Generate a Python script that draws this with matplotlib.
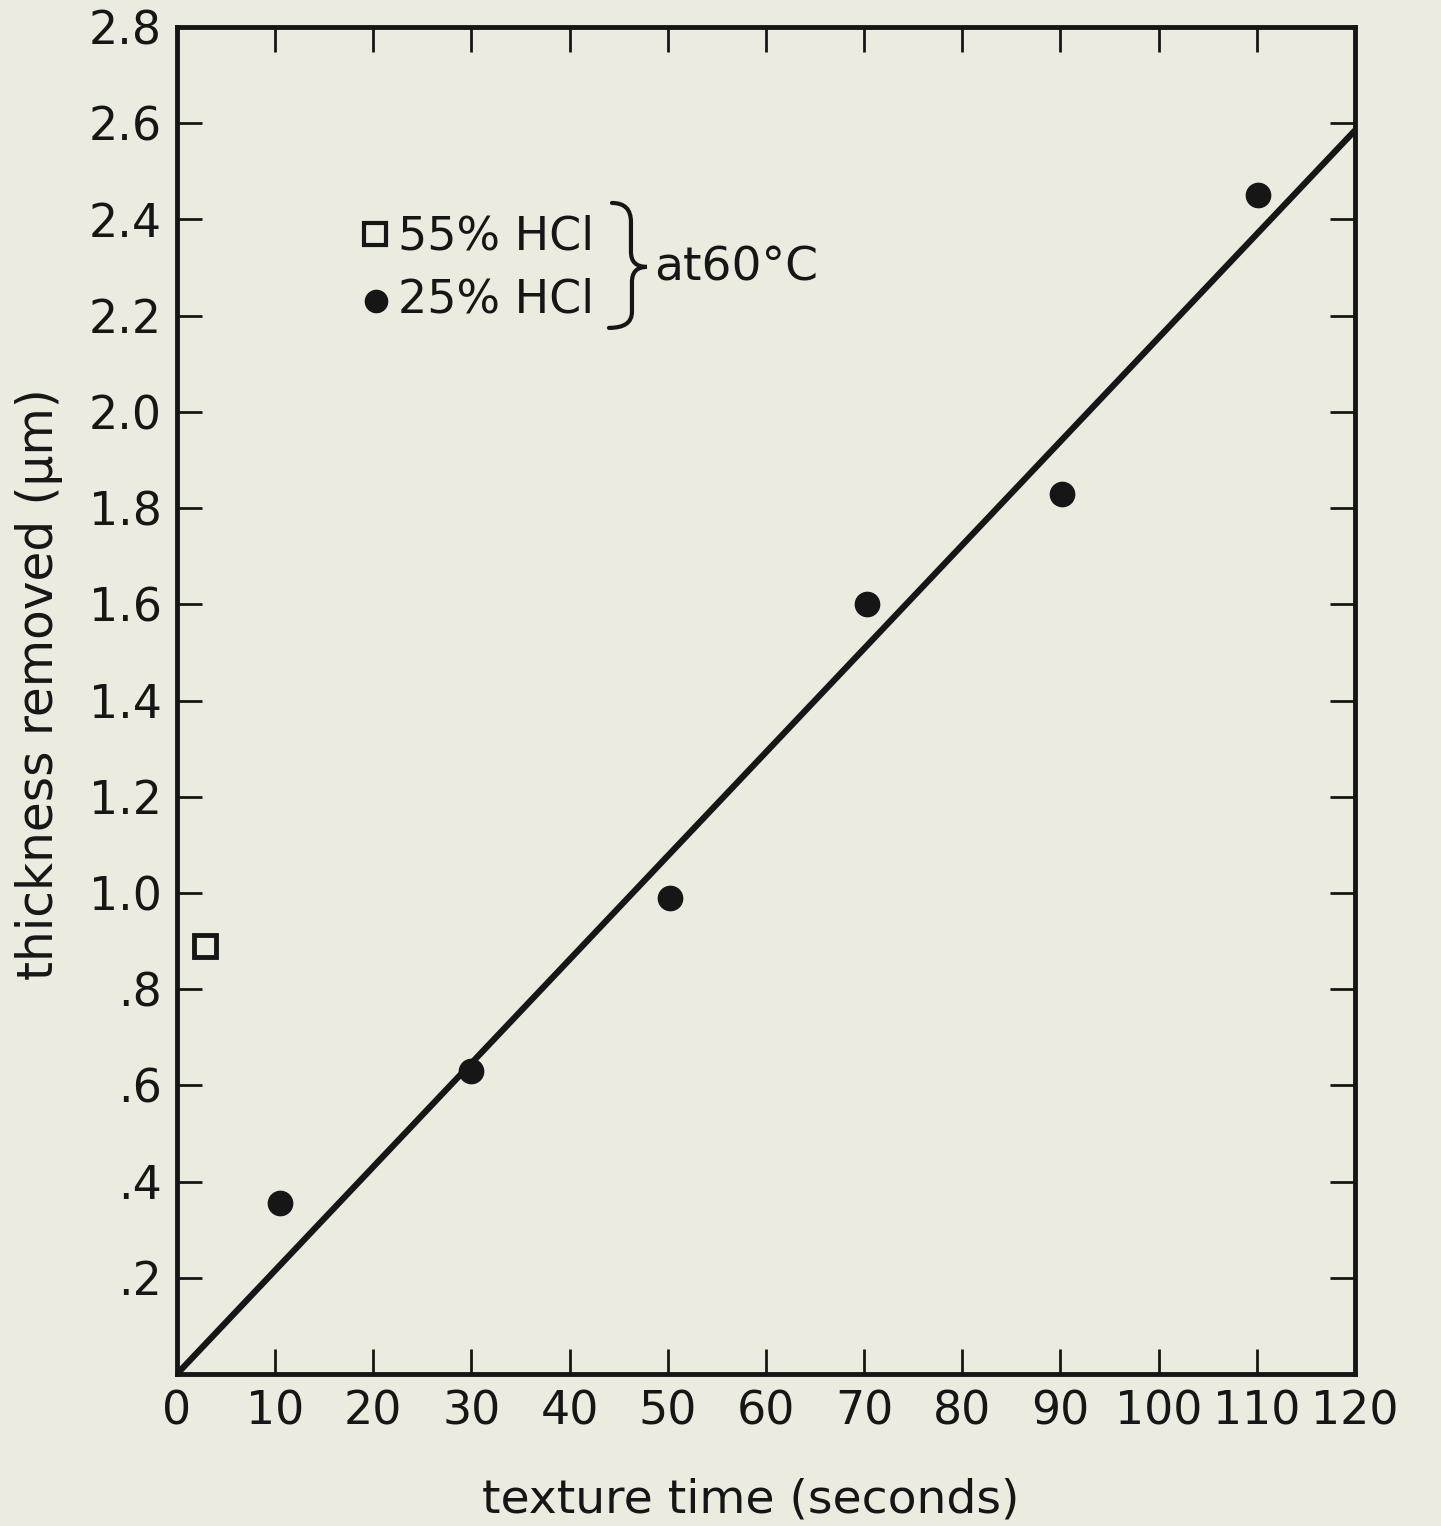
import matplotlib.pyplot as plt
from matplotlib.path import Path
from matplotlib.patches import PathPatch

plt.rcParams['font.family'] = ['DejaVu Sans']

# datos
t_25 = [10.5, 30, 50.2, 70.3, 90.2, 110.1]
h_25 = [0.355, 0.63, 0.99, 1.60, 1.83, 2.45]
t_55 = [2.9]
h_55 = [0.89]
fit_t = [0, 120]
fit_h = [0, 2.585]

xticks = list(range(0, 121, 10))
yticks = [0.2, 0.4, 0.6, 0.8, 1.0, 1.2, 1.4, 1.6, 1.8, 2.0, 2.2, 2.4, 2.6, 2.8]
ylabels = ['.2', '.4', '.6', '.8', '1.0', '1.2', '1.4', '1.6', '1.8', '2.0',
           '2.2', '2.4', '2.6', '2.8']

bg = '#ecebe0'
ink = '#161616'
fig = plt.figure(figsize=(14.41, 15.26), dpi=100, facecolor=bg)
ax = fig.add_axes([0.1228, 0.0996, 0.8175, 0.8827])
ax.set_facecolor(bg)

ax.plot(fit_t, fit_h, color=ink, lw=4.5, solid_capstyle='butt')
ax.plot(t_25, h_25, 'o', color=ink, ms=17.5)
ax.plot(t_55, h_55, 's', mfc='none', mec=ink, mew=3.5, ms=16)

ax.set_xlim(0, 120)
ax.set_ylim(0, 2.8)
ax.set_xticks(xticks)
ax.set_yticks(yticks)
ax.set_yticklabels(ylabels)
ax.tick_params(direction='in', length=18, width=2, top=True, right=True,
               labelsize=33, pad=11, colors=ink)
for s in ax.spines.values():
    s.set_linewidth(3.5)
    s.set_color(ink)

ax.set_xlabel('texture time (seconds)', fontsize=34, color=ink, va='top')
ax.xaxis.set_label_coords(0.487, -0.077)
ax.set_ylabel('thickness removed (\u03bcm)', fontsize=35, color=ink)
ax.yaxis.set_label_coords(-0.097, 0.512)


# pixel -> datos, solo para la leyenda dibujada a mano
def px(x, y):
    return ((x - 177) / 9.8167, (1374.5 - y) / 481.25)


ax.plot(*px(375, 234), 's', mfc='none', mec=ink, mew=3, ms=15.5)
ax.plot(*px(376, 301), 'o', color=ink, ms=16)
ax.text(*px(398, 237), '55% HCl', fontsize=33, va='center', color=ink)
ax.text(*px(398, 300), '25% HCl', fontsize=33, va='center', color=ink)
ax.text(*px(654, 268), 'at60\u00b0C', fontsize=34, va='center', color=ink)

# llave
pts = [(612, 203), (631, 203), (631, 222), (631, 252), (631, 267), (647, 267),
       (632, 267), (632, 282), (632, 312), (632, 328), (609, 328)]
codes = [Path.MOVETO, Path.CURVE3, Path.CURVE3, Path.LINETO, Path.CURVE3,
         Path.CURVE3, Path.CURVE3, Path.CURVE3, Path.LINETO, Path.CURVE3,
         Path.CURVE3]
brace = Path([px(*p) for p in pts], codes)
ax.add_patch(PathPatch(brace, fill=False, ec=ink, lw=3, capstyle='round'))

fig.savefig('out.png', dpi=100, facecolor=bg)
